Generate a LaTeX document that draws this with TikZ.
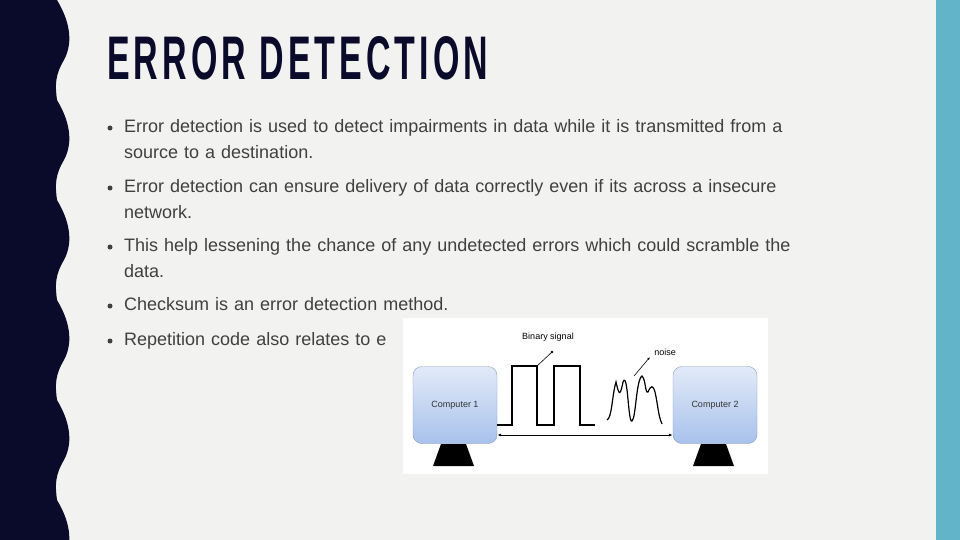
\documentclass[tikz,border=0pt]{standalone}
\usepackage{fontspec}
\setmainfont{Liberation Sans}
\usetikzlibrary{arrows.meta}
\hyphenpenalty=10000
\exhyphenpenalty=10000
\definecolor{bg}{HTML}{F2F2F0}
\definecolor{navy}{HTML}{0A0A2A}
\definecolor{teal}{HTML}{62B5C8}
\definecolor{txt}{HTML}{404040}
\definecolor{boxtop}{HTML}{E2EAF8}
\definecolor{boxbot}{HTML}{A8C2EC}
\tikzset{
 bullet/.style={anchor=north west,inner sep=0pt,text=txt,font=\fontsize{18}{26}\selectfont,text width=712pt,align=left},
 dot/.style={circle,fill=txt,inner sep=0pt,minimum size=5pt},
 comp/.style={draw=boxbot!80!black,line width=0.4pt,rounded corners=9pt,top color=boxtop,bottom color=boxbot,minimum width=84pt,minimum height=77pt,inner sep=0pt,font=\fontsize{9}{10}\selectfont,text=black!80},
 small/.style={font=\fontsize{9}{10}\selectfont,inner sep=0pt},
 sig/.style={line width=1.6pt},
}
\begin{document}
\begin{tikzpicture}[x=1pt,y=-1pt]
\fill[bg] (0,0) rectangle (960,540);
\useasboundingbox (0,0) rectangle (960,540);
\fill[teal] (936,0) rectangle (960,540);
\fill[navy] (0,0) -- (57,0)
  \foreach \k in {0,...,5}{ .. controls (72,{\k*100+25}) and (72,{\k*100+45}) .. (64,{\k*100+60})
   .. controls (55,{\k*100+75}) and (55,{\k*100+85}) .. (57,{\k*100+100}) }
  -- (57,540) -- (0,540) -- cycle;
\node[anchor=south west,inner sep=0pt,text=navy] (title) at (107,80)
  {\resizebox{381pt}{43pt}{\addfontfeature{LetterSpace=12}\bfseries ERROR DETECTION}};
\node[dot] (d1) at (110,128) {};
\node[bullet] (b1) at (124,119) {Error detection is used to detect impairments in data while it is transmitted from a source to a destination.};
\node[dot] (d2) at (110,188) {};
\node[bullet] (b2) at (124,179) {Error detection can ensure delivery of data correctly even if its across a insecure network.};
\node[dot] (d3) at (110,247) {};
\node[bullet] (b3) at (124,238) {This help lessening the chance of any undetected errors which could scramble the\\ data.};
\node[dot] (d4) at (110,306) {};
\node[bullet] (b4) at (124,297) {Checksum is an error detection method.};
\node[dot] (d5) at (110,341) {};
\node[bullet] (b5) at (124,332) {Repetition code also relates to e};
% image
\fill[white] (403,318) rectangle (768,474);
\fill[black] (441,444) -- (466,444) -- (474,466) -- (433,466) -- cycle;
\fill[black] (701,444) -- (726,444) -- (734,466) -- (693,466) -- cycle;
\node[comp] (c1) at (455,405) {Computer 1};
\node[comp] (c2) at (715,405) {Computer 2};
\draw[sig] (c1.east|-0,425) -- (512,425) -- (512,366) -- (537,366) -- (537,425) -- (554,425) -- (554,366) -- (580,366) -- (580,425) -- (595,425);
\draw[line width=0.8pt,{Latex[length=4pt]}-{Latex[length=4pt]}] (c1.east|-0,435) -- (c2.west|-0,435);
\node[small] (bl) at (548,337) {Binary signal};
\coordinate (bs) at (537,366);
\fill (552,352) circle (1.3pt);
\draw[line width=0.6pt] (bs) -- (552,352);
\node[small] (nl) at (665,352) {noise};
\draw[line width=0.6pt,-{Latex[length=3pt]}] (634,376) -- (650,357);
\draw[line width=1.2pt] (607,420) .. controls (612,418) and (612,395) .. (616,382) .. controls (619,395) and (620,397) .. (623,382) .. controls (628,370) and (628,424) .. (632,421) .. controls (636,418) and (636,380) .. (642,376) .. controls (646,380) and (645,394) .. (648,392) .. controls (651,385) and (653,385) .. (655,392) .. controls (658,405) and (658,415) .. (662,424);
\end{tikzpicture}
\end{document}
